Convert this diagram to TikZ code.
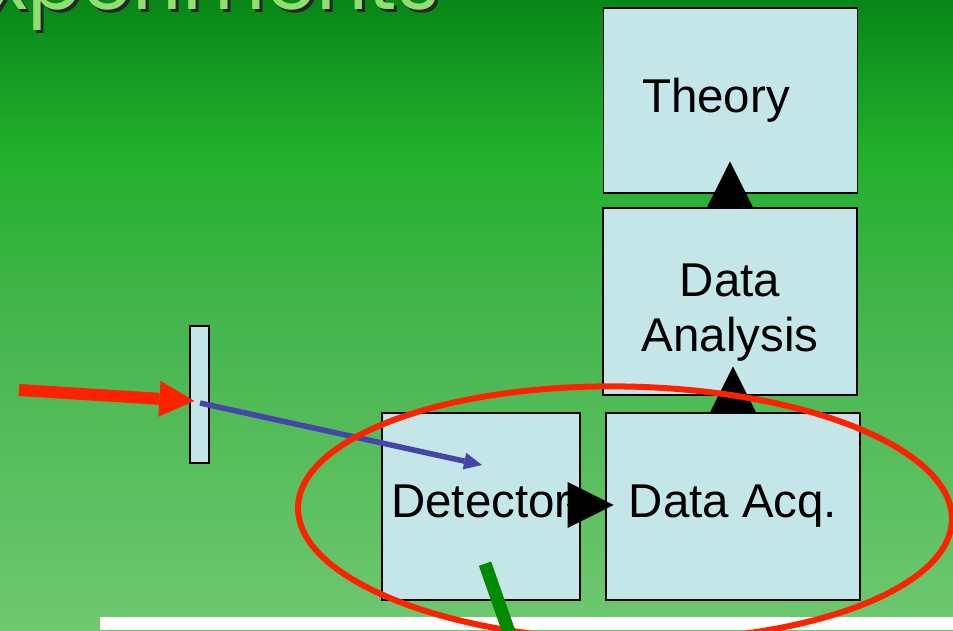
\documentclass[tikz,border=0pt]{standalone}
\usepackage{fontspec}
\setmainfont{Liberation Sans}
\newfontfamily\titlefont{Poppins}
\usetikzlibrary{arrows.meta,calc}
\definecolor{bgtop}{RGB}{8,134,24}
\definecolor{bgupper}{RGB}{34,176,44}
\definecolor{bgmid}{RGB}{70,182,78}
\definecolor{bgbottom}{RGB}{110,200,112}
\definecolor{boxfill}{RGB}{196,230,232}
\definecolor{beamred}{RGB}{255,34,0}
\definecolor{beamblue}{RGB}{70,70,170}
\definecolor{markgreen}{RGB}{0,138,0}
\definecolor{titlegreen}{RGB}{144,224,112}
\pgfdeclareverticalshading{slidebg}{100bp}{color(0bp)=(bgbottom); color(25bp)=(bgbottom);
  color(49bp)=(bgmid); color(63bp)=(bgupper); color(75bp)=(bgtop); color(100bp)=(bgtop)}

\begin{document}
\begin{tikzpicture}[semithick,
  stage/.style={draw=black,thick,fill=boxfill,inner sep=0pt,align=center,
    font=\fontsize{27}{31.2}\selectfont},
  bigtip/.style={-{Triangle[length=0.92cm,width=0.92cm,line width=0pt]}},
  title/.style={anchor=base east,inner sep=0pt,font=\titlefont\fontsize{46}{50}\selectfont}]
\useasboundingbox (0,0) rectangle (19.06,12.6);
\clip (0,0) rectangle (19.06,12.6);
\shade[shading=slidebg] (0,0) rectangle (19.06,12.6);
% slide title, cut off at the top
\node[title,text=black!85] (titleshadow) at (8.86,12.35) {Experiments};
\node[title,text=titlegreen] (title) at (8.80,12.42) {Experiments};
\fill[white] (2.0,0) rectangle (19.06,0.26);
% the chain
\node[stage,minimum width=5.08cm,minimum height=3.70cm] (theory) at (14.61,10.59) {Theory\kern0.58cm};
\node[stage,minimum width=5.08cm,minimum height=3.74cm] (analysis) at (14.60,6.57) {\rule{0pt}{1.09cm}Data\\Analysis};
\node[stage,minimum width=3.96cm,minimum height=3.74cm] (detector) at (9.62,2.47) {Detector\rule[-0.2cm]{0pt}{0pt}};
\node[stage,minimum width=5.08cm,minimum height=3.74cm] (acq) at (14.66,2.47) {Data Acq.};
\node[draw=black,thick,fill=boxfill,minimum width=0.38cm,minimum height=2.74cm,inner sep=0pt] (target) at (3.99,4.71) {};
% beams
\coordinate (beam) at (0.38,4.80);
\draw[line width=0.24cm,beamred,-{Triangle[length=0.7cm,width=0.72cm,line width=0pt]}]
  (beam) -- ($(target.west)+(0.10,-0.13)$);
\draw[line width=0.11cm,beamblue,-{Triangle[length=0.36cm,width=0.34cm,line width=0pt]}]
  ($(target.center)+(0.01,-0.17)$) -- ($(detector.center)+(0.02,0.83)$);
\draw[bigtip] ($(detector.east)+(-0.28,0.03)$) -- ++(0.94,0);
\draw[bigtip] (acq.north) -- ++(0,0.92);
\draw[bigtip] (analysis.north) -- ++(0,0.92);
% highlight
\coordinate (ring) at (12.5,2.33);
\draw[beamred,line width=0.12cm,rotate around={-1.1:(ring)}] (ring) ellipse [x radius=6.54cm,y radius=2.54cm];
\coordinate (pen) at ($(detector.south)+(0.08,0.74)$);
\draw[markgreen,line width=0.26cm] (pen) -- ++(0.54,-1.54);
\end{tikzpicture}
\end{document}
